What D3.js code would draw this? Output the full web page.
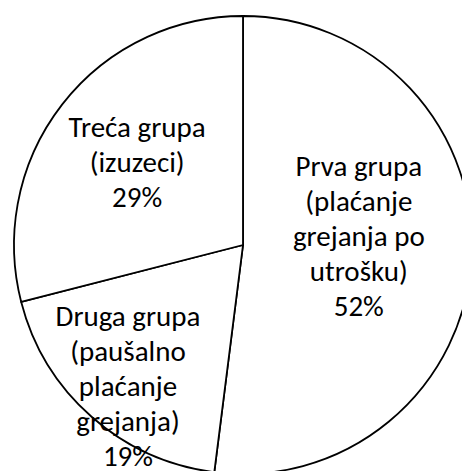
<!DOCTYPE html>
<html>
<head>
<meta charset="utf-8">
<script src="https://cdn.jsdelivr.net/npm/d3@7"></script>
<style>
  body { margin: 0; background: #fff; }
  svg { display: block; }
</style>
</head>
<body>
<div id="chart"></div>
<script>
var width = 462, height = 471;

// data
var categories = [
    ["Prva grupa", "(plaćanje", "grejanja po", "utrošku)"],
    ["Druga grupa", "(paušalno", "plaćanje", "grejanja)"],
    ["Treća grupa", "(izuzeci)"]
];
var values = [52, 19, 29];

var cx = 243, cy = 245, radius = 229;
var labelR = [116, 183, 134];                 // excel pushes labels around to fit
var nudge = [[0, -15], [6, 5], [0, 0]];
var lineH = 35;

var svg = d3.select("#chart").append("svg")
    .attr("width", width)
    .attr("height", height);

var g = svg.append("g")
    .attr("transform", "translate(" + cx + "," + cy + ")");

var pie = d3.pie().sort(null).value(d => d);
var arcs = pie(values);

var arc = d3.arc().innerRadius(0).outerRadius(radius);

g.selectAll(".slice")
    .data(arcs)
    .enter().append("path")
    .attr("class", "slice")
    .attr("d", arc)
    .style("fill", "#fff")
    .style("stroke", "#000")
    .style("stroke-width", 1.8)
    .style("stroke-linejoin", "round");

var fmt = d => d + "%";

var labels = g.selectAll(".label")
    .data(arcs)
    .enter().append("text")
    .attr("class", "label")
    .attr("transform", (d, i) => {
        var c = d3.arc().innerRadius(labelR[i]).outerRadius(labelR[i]).centroid(d);
        return "translate(" + (c[0] + nudge[i][0]) + "," + (c[1] + nudge[i][1]) + ")";
    })
    .style("text-anchor", "middle")
    .style("font-family", "Carlito, Calibri, Lato, sans-serif")
    .style("font-size", "29px")
    .style("fill", "#000");

labels.each(function(d, i) {
    var lines = categories[i].concat([fmt(values[i])]);
    var t = d3.select(this);
    var start = -(lines.length - 1) * lineH / 2 + 9;
    lines.forEach((s, k) => {
        t.append("tspan")
            .attr("x", 0)
            .attr("y", start + k * lineH)
            .text(s);
    });
});
</script>
</body>
</html>
